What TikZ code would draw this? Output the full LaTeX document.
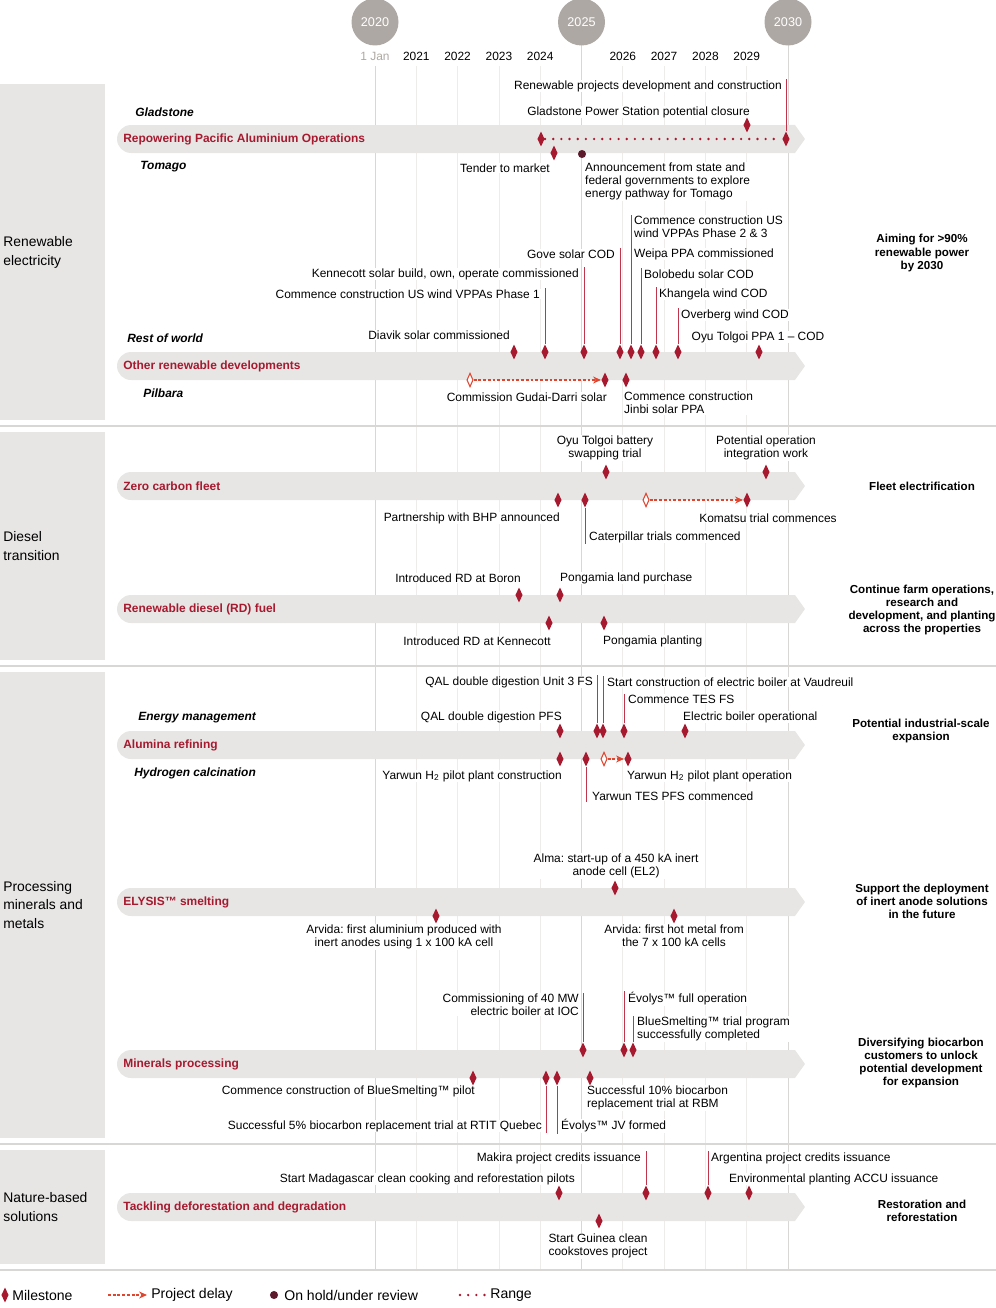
\documentclass[tikz,border=0pt]{standalone}
\usepackage{fontspec}
\setmainfont{Liberation Sans}
\frenchspacing
\usetikzlibrary{shapes.geometric, arrows.meta, positioning}

\definecolor{rtred}{HTML}{A6192E}
\definecolor{leadred}{HTML}{C0354B}
\definecolor{slipred}{HTML}{E0452F}
\definecolor{holdred}{HTML}{5C1A2C}
\definecolor{bandgrey}{HTML}{E8E6E5}
\definecolor{boxgrey}{HTML}{E8E6E5}
\definecolor{yeargrey}{HTML}{ADA8A3}
\definecolor{gridgrey}{HTML}{EEECEB}
\definecolor{rulegrey}{HTML}{D9D7D6}

% grey band with round left end and pointed right end, title inside
\newcommand{\band}[3]{%
  \fill[bandgrey] (131,#1+14) arc[start angle=270, end angle=90, radius=0.28cm]
    -- (795,#1-14) -- (805,#1) -- (795,#1+14) -- cycle;
  \node[btitle, anchor=west] (#2) at (123,#1) {#3};}

\begin{document}
\begin{tikzpicture}[x=0.02cm, y=-0.02cm,
    lbl/.style={font=\fontsize{6.8}{7.4}\selectfont, inner sep=0.5pt, fill=white},
    lbll/.style={lbl, align=left},
    lblc/.style={lbl, align=center},
    lblr/.style={lbl, align=right},
    loc/.style={font=\fontsize{6.8}{7.4}\selectfont\bfseries\itshape, inner sep=0pt},
    btitle/.style={font=\fontsize{6.8}{7.4}\selectfont\bfseries, text=rtred, inner sep=0pt},
    goal/.style={font=\fontsize{6.6}{7.4}\selectfont\bfseries, align=center, inner sep=0pt},
    area/.style={font=\fontsize{7.9}{10.6}\selectfont, align=left, inner sep=0pt},
    ms/.style={diamond, fill=rtred, inner sep=0pt, minimum width=4.2pt, minimum height=8.6pt},
    msd/.style={diamond, draw=slipred, fill=white, line width=0.6pt, inner sep=0pt, minimum width=3.6pt, minimum height=7.8pt},
    hold/.style={circle, fill=holdred, inner sep=0pt, minimum size=4.6pt},
    lead/.style={draw=leadred, line width=0.45pt},
    slip/.style={draw=slipred, line width=0.6pt, dash pattern=on 1.6pt off 1.1pt, -{Stealth[length=4.5pt, width=4pt]}},
    span/.style={draw=rtred, line width=1.5pt, line cap=round, dash pattern=on 0pt off 4.65pt},
    yearmark/.style={circle, fill=yeargrey, text=white, minimum size=0.94cm, inner sep=0pt, font=\fontsize{7.2}{8}\selectfont},
    yearlbl/.style={font=\fontsize{6.8}{8}\selectfont, inner sep=0pt},
    leg/.style={font=\fontsize{8}{9}\selectfont, inner sep=0pt}
  ]
  \useasboundingbox (0,0) rectangle (996,1308);

  % grid and rules
  \foreach \yx in {416.3,457.6,498.9,540.2,622.8,664.1,705.4,746.7}
    \draw[gridgrey, line width=0.4pt] (\yx,66) -- (\yx,1270);
  \draw[rulegrey, line width=0.5pt] (375,66) -- (375,1270);
  \draw[rulegrey, line width=0.5pt] (581.5,22) -- (581.5,1270);
  \draw[rulegrey, line width=0.5pt] (788,22) -- (788,1270);
  \foreach \ry in {426,666,1144,1270}
    \draw[rulegrey, line width=0.6pt] (0,\ry) -- (996,\ry);

  % years
  \node[yearmark] (y2020) at (375,22) {2020};
  \node[yearmark] (y2025) at (581.5,22) {2025};
  \node[yearmark] (y2030) at (788,22) {2030};
  \node[yearlbl, text=yeargrey] (jan) at (375,56) {1 Jan};
  \foreach \yx/\yn in {416.3/2021, 457.6/2022, 498.9/2023, 540.2/2024, 622.8/2026, 664.1/2027, 705.4/2028, 746.7/2029}
    \node[yearlbl] (y\yn) at (\yx,56) {\yn};

  % areas
  \fill[boxgrey] (0,84) rectangle (105,420);
  \fill[boxgrey] (0,432) rectangle (105,660);
  \fill[boxgrey] (0,672) rectangle (105,1138);
  \fill[boxgrey] (0,1150) rectangle (105,1264);
  \node[area, anchor=west] (arearen) at (3,252.5) {Renewable\\electricity};
  \node[area, anchor=west] (areadsl) at (3,546) {Diesel\\transition};
  \node[area, anchor=west] (areapro) at (3,905) {Processing\\minerals and\\metals};
  \node[area, anchor=west] (areanat) at (3,1207) {Nature-based\\solutions};

  %% Renewable electricity
  \band{139}{rpao}{Repowering Pacific Aluminium Operations}
  \node[loc, anchor=west] (gladstone) at (135,112) {Gladstone};
  \node[loc, anchor=west] (tomago) at (140,167) {Tomago};
  \node[lbl, anchor=east] (rpdevlbl) at (783,86) {Renewable projects development and construction};
  \node[lbl, anchor=east] (gpsclbl) at (751,112) {Gladstone Power Station potential closure};
  \node[lbl, anchor=east] (tenderlbl) at (551,168) {Tender to market};
  \node[lbll, anchor=north west] (tomholdlbl) at (584,161.5) {Announcement from state and\\federal governments to explore\\energy pathway for Tomago};
  \node[ms] (rpstart) at (541,139) {};
  \node[ms] (rpend) at (786,139) {};
  \draw[span] (rpstart) -- (rpend);
  \node[ms] (gpsc) at (747,125) {};
  \node[ms] (tender) at (554,153) {};
  \node[hold] (tomhold) at (582,154) {};
  \draw[lead] (rpend.north) -- (rpend |- rpdevlbl.north);

  \band{366}{ord}{Other renewable developments}
  \node[loc, anchor=west] (restworld) at (127,338) {Rest of world};
  \node[loc, anchor=west] (pilbara) at (143,393) {Pilbara};
  \node[lbl, anchor=east] (diaviklbl) at (511,335) {Diavik solar commissioned};
  \node[lbl, anchor=east] (ph1lbl) at (541,294) {Commence construction US wind VPPAs Phase 1};
  \node[lbl, anchor=east] (kennlbl) at (580,274) {Kennecott solar build, own, operate commissioned};
  \node[lbl, anchor=east] (govelbl) at (616,254) {Gove solar COD};
  \node[lbll, anchor=north west] (ph23lbl) at (633,215) {Commence construction US\\wind VPPAs Phase 2 \& 3};
  \node[lbl, anchor=west] (weipalbl) at (633,254) {Weipa PPA commissioned};
  \node[lbl, anchor=west] (bololbl) at (643,274) {Bolobedu solar COD};
  \node[lbl, anchor=west] (khanglbl) at (658,294) {Khangela wind COD};
  \node[lbl, anchor=west] (overlbl) at (680,315) {Overberg wind COD};
  \node[lbl] (oyulbl) at (758,337) {Oyu Tolgoi PPA 1 -- COD};
  \node[lbl, anchor=east] (gudailbl) at (608,397) {Commission Gudai-Darri solar};
  \node[lbll, anchor=north west] (jinbilbl) at (623,391) {Commence construction\\Jinbi solar PPA};
  \node[ms] (diavik) at (514,352) {};
  \node[ms] (ph1) at (545,352) {};
  \node[ms] (kenn) at (584,352) {};
  \node[ms] (gove) at (620,352) {};
  \node[ms] (ph23) at (631,352) {};
  \node[ms] (bolo) at (641,352) {};
  \node[ms] (khang) at (656,352) {};
  \node[ms] (over) at (678,352) {};
  \node[ms] (oyu) at (759,352) {};
  \node[msd] (gudaiold) at (470,380) {};
  \node[ms] (gudai) at (605,380) {};
  \node[ms] (jinbi) at (626,380) {};
  \draw[slip] (gudaiold) -- (gudai);
  \draw[lead] (ph1.north) -- (ph1 |- ph1lbl.north);
  \draw[lead] (kenn.north) -- (kenn |- kennlbl.north);
  \draw[lead] (gove.north) -- (gove |- govelbl.north);
  \draw[lead] (ph23.north) -- (ph23 |- ph23lbl.north);
  \draw[lead] (bolo.north) -- (bolo |- bololbl.north);
  \draw[lead] (khang.north) -- (khang |- khanglbl.north);
  \draw[lead] (over.north) -- (over |- overlbl.north);
  \node[goal] (aim) at (922,253) {Aiming for >90\%\\renewable power\\by 2030};

  %% Diesel transition
  \band{486}{zcf}{Zero carbon fleet}
  \node[lblc, anchor=south] (otbatlbl) at (605,461) {Oyu Tolgoi battery\\swapping trial};
  \node[lblc, anchor=south] (potoplbl) at (766,461) {Potential operation\\integration work};
  \node[lbl, anchor=east] (bhplbl) at (561,518) {Partnership with BHP announced};
  \node[lbl, anchor=west] (catlbl) at (588,537) {Caterpillar trials commenced};
  \node[lbl] (komatsulbl) at (768,518) {Komatsu trial commences};
  \node[ms] (otbat) at (606,472) {};
  \node[ms] (potop) at (766,472) {};
  \node[ms] (bhp) at (558,500) {};
  \node[ms] (cat) at (585,500) {};
  \node[msd] (komatsuold) at (646,500) {};
  \node[ms] (komatsu) at (747,500) {};
  \draw[slip] (komatsuold) -- (komatsu);
  \draw[lead] (cat.south) -- (cat |- catlbl.south);
  \node[goal] (fleet) at (922,486) {Fleet electrification};

  \band{609}{rdf}{Renewable diesel (RD) fuel}
  \node[lbl, anchor=east] (boronlbl) at (522,578) {Introduced RD at Boron};
  \node[lbl, anchor=west] (plplbl) at (559,578) {Pongamia land purchase};
  \node[lbl, anchor=east] (kenrdlbl) at (552,641) {Introduced RD at Kennecott};
  \node[lbl, anchor=west] (ppllbl) at (602,641) {Pongamia planting};
  \node[ms] (boron) at (519,595) {};
  \node[ms] (plp) at (560,595) {};
  \node[ms] (kenrd) at (549,623) {};
  \node[ms] (ppl) at (604,623) {};
  \node[goal] (farm) at (922,609.5) {Continue farm operations,\\research and\\development, and planting\\across the properties};

  %% Processing minerals and metals
  \band{745}{alr}{Alumina refining}
  \node[loc, anchor=west] (energy) at (138,718) {Energy management};
  \node[loc, anchor=west] (hydrogen) at (134,773) {Hydrogen calcination};
  \node[lbl, anchor=east] (qal3lbl) at (594,682) {QAL double digestion Unit 3 FS};
  \node[lbl, anchor=west] (vaudlbl) at (606,682) {Start construction of electric boiler at Vaudreuil};
  \node[lbl, anchor=west] (tesfslbl) at (627,699) {Commence TES FS};
  \node[lbl, anchor=east] (qalpfslbl) at (563,717) {QAL double digestion PFS};
  \node[lbl, anchor=west] (eboillbl) at (682,717) {Electric boiler operational};
  \node[lbl, anchor=east] (h2clbl) at (563,776) {Yarwun H\textsubscript{2} pilot plant construction};
  \node[lbl, anchor=west] (yttelbl) at (591,796) {Yarwun TES PFS commenced};
  \node[lbl, anchor=west] (h2oplbl) at (626,776) {Yarwun H\textsubscript{2} pilot plant operation};
  \node[ms] (qalpfs) at (560,731) {};
  \node[ms] (qal3) at (597,731) {};
  \node[ms] (vaud) at (603,731) {};
  \node[ms] (tesfs) at (624,731) {};
  \node[ms] (eboil) at (685,731) {};
  \node[ms] (h2c) at (560,759) {};
  \node[ms] (ytte) at (586,759) {};
  \node[msd] (h2opold) at (604,759) {};
  \node[ms] (h2op) at (628,759) {};
  \draw[slip] (h2opold) -- (h2op);
  \draw[lead] (qal3.north) -- (qal3 |- qal3lbl.north);
  \draw[lead] (vaud.north) -- (vaud |- vaudlbl.north);
  \draw[lead] (tesfs.north) -- (tesfs |- tesfslbl.north);
  \draw[lead] (ytte.south) -- (ytte |- yttelbl.south);
  \node[goal] (indscale) at (921,730.5) {Potential industrial-scale\\expansion};

  \band{902}{ely}{ELYSIS™ smelting}
  \node[lblc, anchor=south] (almalbl) at (616,879) {Alma: start-up of a 450 kA inert\\anode cell (EL2)};
  \node[lblc, anchor=north] (arv1lbl) at (404,923.5) {Arvida: first aluminium produced with\\inert anodes using 1 x 100 kA cell};
  \node[lblc, anchor=north] (arv7lbl) at (674,923.5) {Arvida: first hot metal from\\the 7 x 100 kA cells};
  \node[ms] (alma) at (615,888) {};
  \node[ms] (arv1) at (436,916) {};
  \node[ms] (arv7) at (674,916) {};
  \node[goal] (inert) at (922,901) {Support the deployment\\of inert anode solutions\\in the future};

  \band{1064}{mnp}{Minerals processing}
  \node[lblr, anchor=north east] (ioclbl) at (580,992.5) {Commissioning of 40 MW\\electric boiler at IOC};
  \node[lbl, anchor=west] (evfulllbl) at (627,999) {Évolys™ full operation};
  \node[lbll, anchor=north west] (bluelbl) at (636,1015.5) {BlueSmelting™ trial program\\successfully completed};
  \node[lbl, anchor=east] (bspilotlbl) at (476,1091) {Commence construction of BlueSmelting™ pilot};
  \node[lbl, anchor=east] (q5lbl) at (543,1126) {Successful 5\% biocarbon replacement trial at RTIT Quebec};
  \node[lbl, anchor=west] (evjvlbl) at (560,1126) {Évolys™ JV formed};
  \node[lbll, anchor=north west] (rbmlbl) at (586,1084.5) {Successful 10\% biocarbon\\replacement trial at RBM};
  \node[ms] (ioc) at (583,1050) {};
  \node[ms] (evfull) at (624,1050) {};
  \node[ms] (blue) at (633,1050) {};
  \node[ms] (bspilot) at (473,1078) {};
  \node[ms] (q5) at (546,1078) {};
  \node[ms] (evjv) at (557,1078) {};
  \node[ms] (rbm) at (590,1078) {};
  \draw[lead] (ioc.north) -- (ioc |- ioclbl.north);
  \draw[lead] (evfull.north) -- (evfull |- evfulllbl.north);
  \draw[lead] (blue.north) -- (blue |- bluelbl.north);
  \draw[lead] (q5.south) -- (q5 |- q5lbl.south);
  \draw[lead] (evjv.south) -- (evjv |- evjvlbl.south);
  \node[goal] (biocarbon) at (921,1063) {Diversifying biocarbon\\customers to unlock\\potential development\\for expansion};

  %% Nature-based solutions
  \band{1207}{tdd}{Tackling deforestation and degradation}
  \node[lbl, anchor=east] (makiralbl) at (642,1158) {Makira project credits issuance};
  \node[lbl, anchor=west] (arglbl) at (710,1158) {Argentina project credits issuance};
  \node[lbl, anchor=east] (madalbl) at (576,1179) {Start Madagascar clean cooking and reforestation pilots};
  \node[lbl, anchor=west] (acculbl) at (728,1179) {Environmental planting ACCU issuance};
  \node[lblc, anchor=north] (guinealbl) at (598,1232.5) {Start Guinea clean\\cookstoves project};
  \node[ms] (mada) at (559,1193) {};
  \node[ms] (makira) at (646,1193) {};
  \node[ms] (arg) at (708,1193) {};
  \node[ms] (accu) at (749,1193) {};
  \node[ms] (guinea) at (599,1221) {};
  \draw[lead] (makira.north) -- (makira |- makiralbl.north);
  \draw[lead] (arg.north) -- (arg |- arglbl.north);
  \node[goal] (restore) at (922,1210.5) {Restoration and\\reforestation};

  %% legend
  \node[ms] (legms) at (5,1295) {};
  \node[leg, anchor=west] (legmslbl) at (12,1295) {Milestone};
  \coordinate (legslipa) at (108,1295);
  \coordinate (legslipb) at (147,1295);
  \draw[slip] (legslipa) -- (legslipb);
  \node[leg, anchor=west] (legsliplbl) at (151,1295) {Project delay};
  \node[hold] (leghold) at (274,1295) {};
  \node[leg, anchor=west] (legholdlbl) at (284,1295) {On hold/under review};
  \coordinate (legspana) at (460,1295);
  \coordinate (legspanb) at (485.5,1295);
  \draw[span] (legspana) -- (legspanb);
  \node[leg, anchor=west] (legspanlbl) at (490,1295) {Range};
\end{tikzpicture}
\end{document}
